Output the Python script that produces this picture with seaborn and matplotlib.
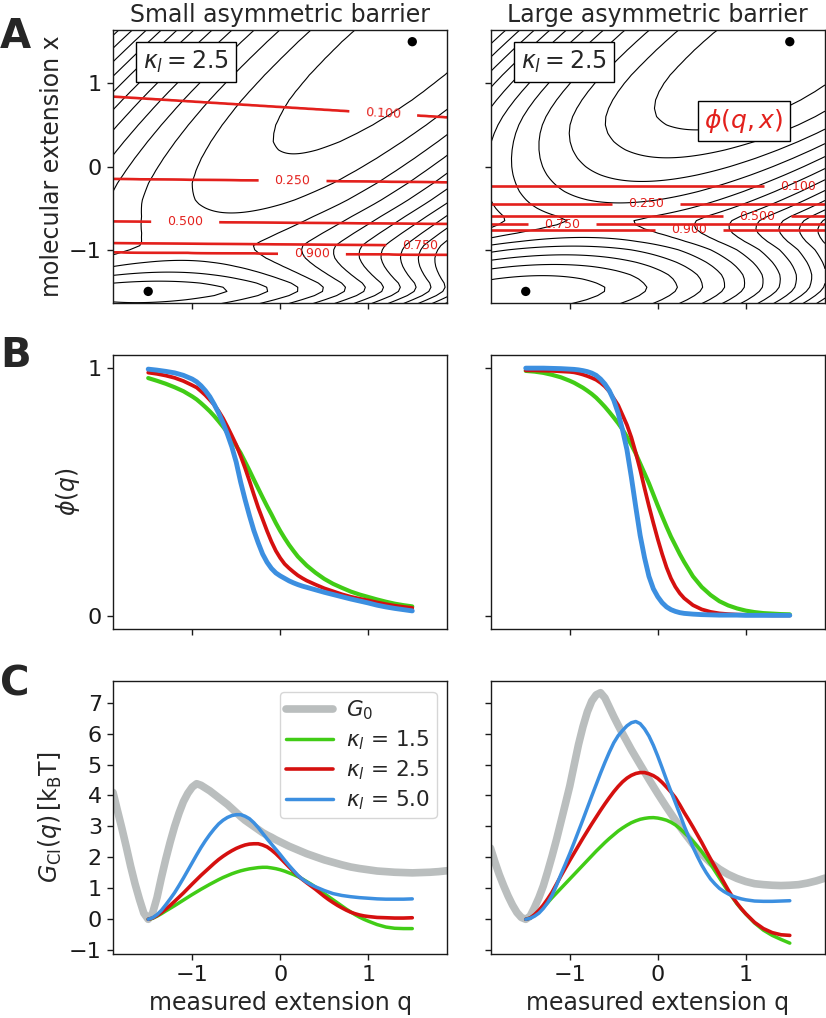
import numpy as np
import matplotlib
matplotlib.use("Agg")
import matplotlib.pyplot as plt
import seaborn as sns

# free energy of the molecule G0(x) (gray curves)
G0_X = [-1.9, -1.85, -1.8, -1.75, -1.7, -1.65, -1.6, -1.55, -1.5, -1.45, -1.4, -1.35,
        -1.3, -1.25, -1.2, -1.15, -1.1, -1.05, -1.0, -0.95, -0.9, -0.85, -0.8, -0.75,
        -0.7, -0.65, -0.6, -0.55, -0.5, -0.45, -0.4, -0.35, -0.3, -0.25, -0.2, -0.15,
        -0.1, -0.05, 0.0, 0.1, 0.2, 0.3, 0.4, 0.5, 0.6, 0.7, 0.8, 0.9, 1.0, 1.1, 1.2,
        1.3, 1.4, 1.5, 1.6, 1.7, 1.8, 1.9]
G0_SMALL = [4.1, 3.52, 2.95, 2.35, 1.72, 1.15, 0.65, 0.2, 0.0, 0.2, 0.7, 1.35,
            1.95, 2.5, 3.0, 3.43, 3.8, 4.07, 4.27, 4.38, 4.33, 4.24, 4.15, 4.04,
            3.93, 3.82, 3.71, 3.58, 3.45, 3.32, 3.2, 3.1, 3.0, 2.9, 2.8, 2.72,
            2.65, 2.57, 2.5, 2.36, 2.24, 2.12, 2.02, 1.92, 1.84, 1.76, 1.69, 1.64, 1.6, 1.56, 1.54,
            1.52, 1.51, 1.5, 1.51, 1.52, 1.54, 1.57]
G0_LARGE = [2.3, 1.85, 1.44, 1.08, 0.75, 0.46, 0.22, 0.06, 0.0, 0.1, 0.38, 0.7,
            1.08, 1.55, 2.05, 2.58, 3.15, 3.72, 4.3, 4.98, 5.65, 6.22, 6.7, 7.05,
            7.25, 7.32, 7.15, 6.85, 6.55, 6.27, 6.0, 5.74, 5.48, 5.24, 5.0, 4.76,
            4.52, 4.29, 4.06, 3.62, 3.2, 2.8, 2.43, 2.1, 1.83, 1.62, 1.45, 1.32, 1.22, 1.15, 1.12,
            1.1, 1.09, 1.1, 1.12, 1.17, 1.24, 1.33]

KAPPA_A = 2.5
WELL_Q = [-1.5, 1.5]
WELL_X = [-1.5, 1.5]

# committor contours phi(q, x): height x of each level at q = -1.9 and q = 1.9
PHI_LEVELS = [0.9, 0.75, 0.5, 0.25, 0.1]
PHI_X_SMALL_L = [-1.03, -0.92, -0.66, -0.15, 0.84]
PHI_X_SMALL_R = [-1.06, -0.95, -0.69, -0.19, 0.59]
PHI_X_LARGE_L = [-0.76, -0.69, -0.60, -0.45, -0.24]
PHI_X_LARGE_R = [-0.76, -0.69, -0.60, -0.45, -0.24]

# panel B: phi(q)
Q_B = [-1.5, -1.4, -1.3, -1.2, -1.1, -1.0, -0.95, -0.9, -0.85, -0.8, -0.75, -0.7,
       -0.65, -0.6, -0.55, -0.5, -0.45, -0.4, -0.35, -0.3, -0.25, -0.2, -0.15, -0.1,
       -0.05, 0.0, 0.05, 0.1, 0.15, 0.2, 0.25, 0.3, 0.4, 0.5, 0.6, 0.7, 0.8, 0.9,
       1.0, 1.1, 1.2, 1.3, 1.4, 1.5]
PHI_SMALL_15 = [0.959, 0.948, 0.936, 0.922, 0.906, 0.885, 0.873, 0.858, 0.842, 0.825, 0.806, 0.785,
                0.763, 0.74, 0.714, 0.686, 0.657, 0.622, 0.587, 0.55, 0.514, 0.478, 0.443, 0.41,
                0.375, 0.343, 0.314, 0.287, 0.263, 0.24, 0.222, 0.204, 0.175, 0.15, 0.13, 0.114,
                0.099, 0.087, 0.077, 0.067, 0.058, 0.05, 0.044, 0.039]
PHI_SMALL_25 = [0.981, 0.976, 0.969, 0.96, 0.947, 0.93, 0.921, 0.906, 0.89, 0.871, 0.851, 0.826,
                0.797, 0.763, 0.727, 0.69, 0.645, 0.597, 0.545, 0.49, 0.437, 0.39, 0.343, 0.3,
                0.263, 0.234, 0.21, 0.193, 0.178, 0.164, 0.153, 0.143, 0.127, 0.112, 0.1, 0.088,
                0.078, 0.07, 0.063, 0.055, 0.048, 0.042, 0.037, 0.033]
PHI_SMALL_50 = [0.995, 0.991, 0.986, 0.98, 0.97, 0.955, 0.944, 0.928, 0.908, 0.884, 0.853, 0.818,
                0.778, 0.733, 0.682, 0.62, 0.54, 0.47, 0.405, 0.345, 0.295, 0.25, 0.217, 0.192,
                0.174, 0.162, 0.152, 0.142, 0.134, 0.127, 0.121, 0.116, 0.106, 0.096, 0.087, 0.078,
                0.069, 0.061, 0.053, 0.044, 0.037, 0.031, 0.026, 0.021]
PHI_LARGE_15 = [0.988, 0.985, 0.98, 0.972, 0.962, 0.948, 0.94, 0.93, 0.92, 0.908, 0.895, 0.88,
                0.862, 0.843, 0.822, 0.8, 0.777, 0.752, 0.722, 0.69, 0.655, 0.615, 0.575, 0.535,
                0.49, 0.445, 0.402, 0.36, 0.32, 0.285, 0.25, 0.218, 0.16, 0.117, 0.085, 0.06,
                0.043, 0.031, 0.022, 0.016, 0.012, 0.01, 0.008, 0.007]
PHI_LARGE_25 = [0.99, 0.99, 0.989, 0.988, 0.986, 0.984, 0.982, 0.978, 0.973, 0.967, 0.96, 0.952,
                0.94, 0.925, 0.905, 0.877, 0.85, 0.81, 0.77, 0.72, 0.658, 0.59, 0.515, 0.443,
                0.375, 0.31, 0.25, 0.196, 0.152, 0.118, 0.092, 0.072, 0.044, 0.027, 0.017, 0.011,
                0.008, 0.006, 0.005, 0.004, 0.004, 0.003, 0.003, 0.003]
PHI_LARGE_50 = [0.999, 0.999, 0.999, 0.998, 0.997, 0.995, 0.994, 0.992, 0.989, 0.985, 0.979, 0.97,
                0.955, 0.935, 0.908, 0.87, 0.818, 0.75, 0.67, 0.56, 0.44, 0.325, 0.235, 0.16,
                0.11, 0.078, 0.054, 0.037, 0.026, 0.019, 0.014, 0.011, 0.008, 0.006, 0.005, 0.004,
                0.004, 0.004, 0.003, 0.003, 0.003, 0.003, 0.003, 0.003]

# panel C: G_CI(q)
Q_C = [-1.5, -1.45, -1.4, -1.35, -1.3, -1.25, -1.2, -1.15, -1.1, -1.05, -1.0, -0.95,
       -0.9, -0.85, -0.8, -0.75, -0.7, -0.65, -0.6, -0.55, -0.5, -0.45, -0.4, -0.35,
       -0.3, -0.25, -0.2, -0.15, -0.1, -0.05, 0.0, 0.05, 0.1, 0.15, 0.2, 0.25, 0.3,
       0.35, 0.4, 0.45, 0.5, 0.55, 0.6, 0.65, 0.7, 0.75, 0.8, 0.85, 0.9, 0.95, 1.0,
       1.1, 1.2, 1.3, 1.4, 1.5]
GCI_SMALL_15 = [0, 0.03, 0.1, 0.18, 0.27, 0.355, 0.44, 0.53, 0.62, 0.71, 0.8, 0.885,
                0.97, 1.05, 1.13, 1.205, 1.28, 1.35, 1.41, 1.47, 1.52, 1.565, 1.6, 1.63,
                1.65, 1.67, 1.68, 1.68, 1.66, 1.635, 1.6, 1.555, 1.5, 1.445, 1.38, 1.305, 1.22,
                1.135, 1.04, 0.935, 0.83, 0.73, 0.63, 0.53, 0.43, 0.33, 0.24, 0.15, 0.07, 0.0, -0.06,
                -0.17, -0.25, -0.29, -0.3, -0.3]
GCI_SMALL_25 = [0, 0.04, 0.12, 0.22, 0.33, 0.45, 0.58, 0.715, 0.85, 0.995, 1.14, 1.28,
                1.42, 1.55, 1.68, 1.81, 1.93, 2.035, 2.13, 2.215, 2.29, 2.35, 2.4, 2.43,
                2.44, 2.44, 2.4, 2.34, 2.24, 2.12, 1.98, 1.835, 1.69, 1.55, 1.41, 1.29, 1.18,
                1.075, 0.97, 0.855, 0.74, 0.635, 0.54, 0.45, 0.37, 0.295, 0.23, 0.18, 0.14, 0.11, 0.09,
                0.06, 0.05, 0.04, 0.04, 0.05]
GCI_SMALL_50 = [0, 0.05, 0.15, 0.29, 0.47, 0.66, 0.86, 1.09, 1.33, 1.58, 1.83, 2.08,
                2.32, 2.54, 2.74, 2.92, 3.08, 3.2, 3.29, 3.35, 3.38, 3.38, 3.33, 3.25,
                3.12, 2.96, 2.78, 2.6, 2.43, 2.26, 2.09, 1.91, 1.74, 1.58, 1.42, 1.3, 1.2,
                1.12, 1.05, 0.99, 0.93, 0.88, 0.83, 0.8, 0.77, 0.75, 0.73, 0.715, 0.7, 0.69, 0.68,
                0.66, 0.65, 0.65, 0.65, 0.66]
GCI_LARGE_15 = [0, 0.04, 0.13, 0.25, 0.39, 0.54, 0.7, 0.85, 1.0, 1.15, 1.3, 1.45,
                1.6, 1.75, 1.9, 2.05, 2.2, 2.34, 2.48, 2.61, 2.73, 2.85, 2.95, 3.04,
                3.12, 3.18, 3.23, 3.26, 3.28, 3.285, 3.27, 3.24, 3.2, 3.135, 3.05, 2.935, 2.8,
                2.665, 2.52, 2.355, 2.18, 1.985, 1.78, 1.56, 1.34, 1.12, 0.9, 0.7, 0.5, 0.33, 0.17,
                -0.12, -0.35, -0.52, -0.65, -0.77]
GCI_LARGE_25 = [0, 0.04, 0.15, 0.29, 0.46, 0.66, 0.88, 1.14, 1.4, 1.65, 1.9, 2.14,
                2.38, 2.62, 2.85, 3.08, 3.3, 3.52, 3.73, 3.93, 4.12, 4.29, 4.44, 4.56,
                4.65, 4.71, 4.74, 4.74, 4.7, 4.64, 4.55, 4.42, 4.27, 4.11, 3.93, 3.7, 3.45,
                3.22, 2.98, 2.73, 2.48, 2.21, 1.95, 1.7, 1.45, 1.2, 0.95, 0.72, 0.52, 0.34, 0.18,
                -0.1, -0.3, -0.43, -0.5, -0.52]
GCI_LARGE_50 = [0, 0.03, 0.1, 0.2, 0.35, 0.54, 0.78, 1.1, 1.45, 1.78, 2.12, 2.48,
                2.85, 3.22, 3.6, 3.98, 4.35, 4.72, 5.07, 5.4, 5.7, 5.93, 6.1, 6.25,
                6.35, 6.39, 6.32, 6.15, 5.92, 5.62, 5.27, 4.89, 4.5, 4.13, 3.77, 3.4, 3.02,
                2.67, 2.33, 2.03, 1.75, 1.51, 1.3, 1.14, 1.0, 0.9, 0.82, 0.75, 0.7, 0.66, 0.63,
                0.59, 0.58, 0.58, 0.59, 0.6]

KAPPAS = ['1.5', '2.5', '5.0']
GREEN, RED, BLUE, GRAY = '#41cc16', '#d5100f', '#3c8fe0', '#babebe'
CONTOUR_RED = '#e3201c'

sns.set_theme(style="ticks", rc={
    'axes.edgecolor': '0.1', 'axes.linewidth': 1.0,
    'xtick.major.size': 4.5, 'ytick.major.size': 4.5,
    'xtick.major.width': 1.0, 'ytick.major.width': 1.0,
    'xtick.color': '0.1', 'ytick.color': '0.1',
    'xtick.labelsize': 16, 'ytick.labelsize': 16,
    'axes.labelsize': 17, 'axes.titlesize': 17,
    'legend.fontsize': 15.5,
})
plt.rcParams['font.family'] = ['DejaVu Sans']
plt.rcParams['mathtext.fontset'] = 'dejavusans'

fig, axes = plt.subplots(3, 2, figsize=(8.26, 10.18), dpi=100, sharex=True, sharey='row')
fig.subplots_adjust(left=0.1368, right=0.9988, top=0.9705, bottom=0.0629,
                    wspace=0.1286, hspace=0.192)


def draw_landscape(ax, g0, phi_l, phi_r, label_pos):
    q = np.linspace(-1.9, 1.9, 400)
    x = np.array(G0_X)
    energy = np.array(g0)[:, None] + 0.5 * KAPPA_A * (q[None, :] - x[:, None]) ** 2
    ax.contour(q, x, energy, levels=np.arange(1.0, 20, 1.3), colors='black', linewidths=0.8)

    xs = np.linspace(-1.8, 1.8, 600)
    frac = (q + 1.9) / 3.8
    phi = np.empty((xs.size, q.size))
    for j, f in enumerate(frac):
        h = np.array(phi_l) + f * (np.array(phi_r) - np.array(phi_l))
        phi[:, j] = np.interp(xs, np.r_[-1.8, h, 1.8], np.r_[1.0, PHI_LEVELS, 0.0])
    cs = ax.contour(q, xs, phi, levels=sorted(PHI_LEVELS), colors=CONTOUR_RED, linewidths=1.9)
    ax.clabel(cs, fmt='%.3f', fontsize=9, inline=True, inline_spacing=16, manual=label_pos)
    sns.scatterplot(x=WELL_Q, y=WELL_X, ax=ax, color='black', s=45, edgecolor='none', zorder=5)
    ax.text(0.09, 0.93, r'$\kappa_l = 2.5$', transform=ax.transAxes, fontsize=17,
            ha='left', va='top',
            bbox=dict(boxstyle='square,pad=0.3', facecolor='white', edgecolor='black', lw=1.0))


draw_landscape(axes[0, 0], G0_SMALL, PHI_X_SMALL_L, PHI_X_SMALL_R,
               [(-1.08, -0.66), (0.14, -0.16), (1.17, 0.64), (1.59, -0.92), (0.36, -1.04)])
draw_landscape(axes[0, 1], G0_LARGE, PHI_X_LARGE_L, PHI_X_LARGE_R,
               [(1.59, -0.24), (-0.13, -0.45), (1.13, -0.60), (-1.09, -0.68), (0.35, -0.75)])
axes[0, 1].text(0.98, 0.55, r'$\phi(q,x)$', color=CONTOUR_RED, fontsize=18,
                ha='center', va='center',
                bbox=dict(boxstyle='square,pad=0.25', facecolor='white', edgecolor='black', lw=1.0))

axes[0, 0].set_title('Small asymmetric barrier')
axes[0, 1].set_title('Large asymmetric barrier')
axes[0, 0].set_ylabel('molecular extension x')
axes[0, 0].set_ylim(-1.64, 1.64)
axes[0, 0].set_yticks([-1, 0, 1])

# panel B
phi_sets = [(PHI_SMALL_15, PHI_SMALL_25, PHI_SMALL_50), (PHI_LARGE_15, PHI_LARGE_25, PHI_LARGE_50)]
for ax, (g, r, b) in zip(axes[1], phi_sets):
    sns.lineplot(x=Q_B, y=g, ax=ax, color=GREEN, linewidth=3.0, legend=False)
    sns.lineplot(x=Q_B, y=r, ax=ax, color=RED, linewidth=2.7, legend=False)
    sns.lineplot(x=Q_B, y=b, ax=ax, color=BLUE, linewidth=3.5, legend=False)
axes[1, 0].set_ylim(-0.05, 1.05)
axes[1, 0].set_yticks([0, 1])
axes[1, 0].set_ylabel(r'$\phi(q)$')

# panel C
gci_sets = [(G0_SMALL, GCI_SMALL_15, GCI_SMALL_25, GCI_SMALL_50),
            (G0_LARGE, GCI_LARGE_15, GCI_LARGE_25, GCI_LARGE_50)]
for ax, (g0, g, r, b) in zip(axes[2], gci_sets):
    sns.lineplot(x=G0_X, y=g0, ax=ax, color=GRAY, linewidth=5.5, label=r'$G_0$', legend=False)
    sns.lineplot(x=Q_C, y=g, ax=ax, color=GREEN, linewidth=2.5,
                 label=r'$\kappa_l$ = ' + KAPPAS[0], legend=False)
    sns.lineplot(x=Q_C, y=r, ax=ax, color=RED, linewidth=2.6,
                 label=r'$\kappa_l$ = ' + KAPPAS[1], legend=False)
    sns.lineplot(x=Q_C, y=b, ax=ax, color=BLUE, linewidth=2.5,
                 label=r'$\kappa_l$ = ' + KAPPAS[2], legend=False)
    ax.set_xlabel('measured extension q')
axes[2, 0].legend(loc='upper right', handlelength=2.2, labelspacing=0.3,
                  handletextpad=0.6, borderpad=0.3)
axes[2, 0].set_ylim(-1.12, 7.7)
axes[2, 0].set_yticks(range(-1, 8))
axes[2, 0].set_ylabel(r'$G_{\mathrm{CI}}(q)\,[\mathrm{k_BT}]$')

for ax in axes.flat:
    ax.set_xlim(-1.9, 1.9)
    ax.set_xticks([-1, 0, 1])
for ax in axes[:, 1]:
    ax.set_ylabel('')
for ax in axes[:2].flat:
    ax.set_xlabel('')

for letter, base in zip('ABC', [48, 367, 695]):
    fig.text(0.0, 1 - base / 1018, letter, fontsize=29, fontweight='bold', va='baseline')

fig.savefig('out.png', dpi=100)
